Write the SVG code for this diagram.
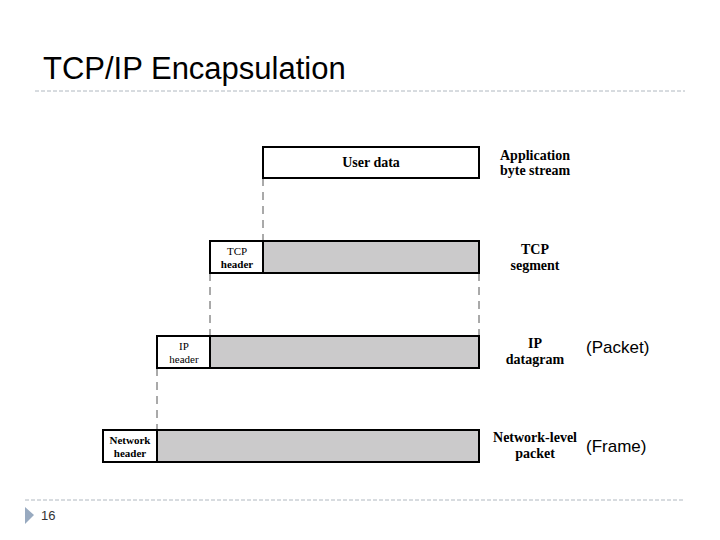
<svg xmlns="http://www.w3.org/2000/svg" width="720" height="540" viewBox="0 0 720 540">
<style>
.b{stroke:#000;stroke-width:2}
.h{fill:#fff}
.g{fill:#cbcacb}
.d{stroke:#555;stroke-width:1;stroke-dasharray:8,6;fill:none}
.t{font-family:"Liberation Serif",serif;font-size:11px;text-anchor:middle}
.l{font-family:"Liberation Serif",serif;font-size:14px;font-weight:bold;text-anchor:middle}
.s{font-family:"Liberation Sans",sans-serif;font-size:17px}
.sep{stroke:#b0b8c0;stroke-width:1;stroke-dasharray:4,2}
</style>
<rect width="720" height="540" fill="#fff"/>
<text x="43" y="79" font-family="Liberation Sans,sans-serif" font-size="31">TCP/IP Encapsulation</text>
<line class="sep" x1="35" y1="91" x2="685" y2="91"/>
<line class="sep" x1="25" y1="500" x2="685" y2="500"/>
<polygon points="25,507 34,515 25,524" fill="#98aac0"/>
<text x="41" y="520" font-family="Liberation Sans,sans-serif" font-size="13" fill="#333">16</text>
<g id="connectors">
<line class="d" x1="263" y1="178" x2="263" y2="241"/>
<line class="d" x1="210" y1="273" x2="210" y2="336"/>
<line class="d" x1="479" y1="273" x2="479" y2="336"/>
<line class="d" x1="157" y1="368" x2="157" y2="430"/>
</g>
<g id="userdata">
<rect class="b h" x="263" y="147" width="216" height="31"/>
<text class="l" x="371" y="167">User data</text>
<text class="l" x="535" y="160">Application</text>
<text class="l" x="535" y="175">byte stream</text>
</g>
<g id="tcp">
<rect class="b g" x="263" y="241" width="216" height="32"/>
<rect class="b h" x="210" y="241" width="53" height="32"/>
<text class="t" x="237" y="255">TCP</text>
<text class="t" x="237" y="268" font-weight="bold">header</text>
<text class="l" x="535" y="254">TCP</text>
<text class="l" x="535" y="270">segment</text>
</g>
<g id="ip">
<rect class="b g" x="210" y="336" width="269" height="32"/>
<rect class="b h" x="157" y="336" width="53" height="32"/>
<text class="t" x="184" y="350">IP</text>
<text class="t" x="184" y="363">header</text>
<text class="l" x="535" y="348">IP</text>
<text class="l" x="535" y="364">datagram</text>
<text class="s" x="586" y="353">(Packet)</text>
</g>
<g id="net">
<rect class="b g" x="157" y="430" width="322" height="32"/>
<rect class="b h" x="103" y="430" width="54" height="32"/>
<text class="t" x="130" y="444" font-weight="bold">Network</text>
<text class="t" x="130" y="457" font-weight="bold">header</text>
<text class="l" x="535" y="442">Network-level</text>
<text class="l" x="535" y="458">packet</text>
<text class="s" x="586" y="452">(Frame)</text>
</g>
</svg>
